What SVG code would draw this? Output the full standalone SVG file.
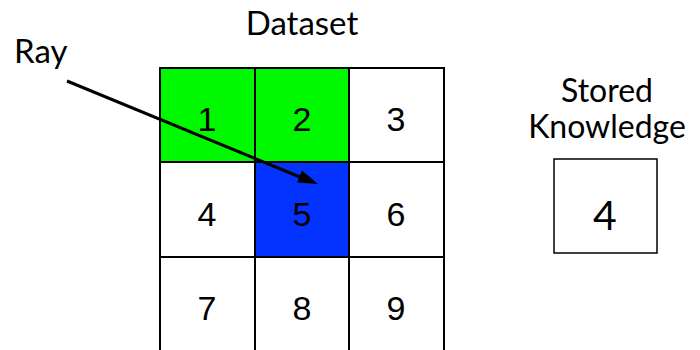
<svg xmlns="http://www.w3.org/2000/svg" width="700" height="350" viewBox="0 0 700 350">
<defs>
<style>
.cell{stroke:#000;stroke-width:2}
.num{font-family:"Liberation Sans",Arial,sans-serif;font-size:34px;text-anchor:middle;fill:#000}
.lbl{font-family:Lato,"Open Sans",sans-serif;font-size:33px;fill:#000}
</style>
</defs>
<rect width="700" height="350" fill="#fff"/>
<text class="lbl" x="302" y="35" text-anchor="middle">Dataset</text>
<text class="lbl" x="14" y="63">Ray</text>
<g id="grid">
<g id="c1"><rect class="cell" x="160" y="68" width="95" height="94" fill="#00F900"/><text class="num" x="207" y="131">1</text></g>
<g id="c2"><rect class="cell" x="255" y="68" width="94" height="94" fill="#00F900"/><text class="num" x="302" y="131">2</text></g>
<g id="c3"><rect class="cell" x="349" y="68" width="95" height="94" fill="#fff"/><text class="num" x="396" y="131">3</text></g>
<g id="c4"><rect class="cell" x="160" y="162" width="95" height="95" fill="#fff"/><text class="num" x="207" y="226">4</text></g>
<g id="c5"><rect class="cell" x="255" y="162" width="94" height="95" fill="#0433FF"/><text class="num" x="302" y="226">5</text></g>
<g id="c6"><rect class="cell" x="349" y="162" width="95" height="95" fill="#fff"/><text class="num" x="396" y="226">6</text></g>
<g id="c7"><rect class="cell" x="160" y="257" width="95" height="96" fill="#fff"/><text class="num" x="207" y="320">7</text></g>
<g id="c8"><rect class="cell" x="255" y="257" width="94" height="96" fill="#fff"/><text class="num" x="302" y="320">8</text></g>
<g id="c9"><rect class="cell" x="349" y="257" width="95" height="96" fill="#fff"/><text class="num" x="396" y="320">9</text></g>
</g>
<g id="stored">
<text class="lbl" x="607" y="102" text-anchor="middle" style="font-size:32px">Stored</text>
<text class="lbl" x="607" y="138" text-anchor="middle" style="font-size:32px">Knowledge</text>
<rect x="554" y="159" width="103" height="94" fill="#fff" stroke="#000" stroke-width="1.5"/>
<text class="lbl" x="605" y="230" text-anchor="middle" style="font-size:41px">4</text>
</g>
<g id="connectors">
<line x1="67" y1="81" x2="300" y2="177" stroke="#000" stroke-width="3"/>
<polygon points="318,184 302,170.4 297,182.4" fill="#000"/>
</g>
</svg>
